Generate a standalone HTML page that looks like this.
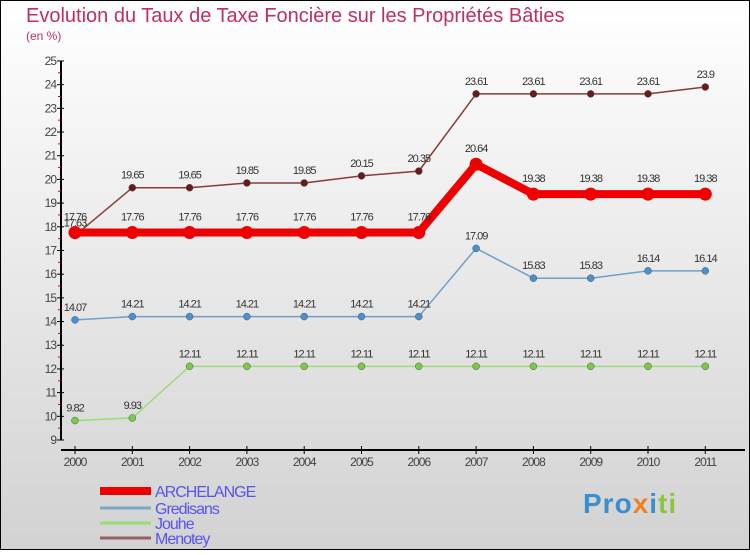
<!DOCTYPE html>
<html><head><meta charset="utf-8"><style>
body{margin:0}
#c{width:750px;height:550px;position:relative;font-family:"Liberation Sans",sans-serif}
</style></head><body>
<div id="c">
<svg id="s" width="750" height="550" xmlns="http://www.w3.org/2000/svg">
<defs><linearGradient id="bg" x1="0" y1="0" x2="0" y2="1"><stop offset="0" stop-color="#ffffff"/><stop offset="1" stop-color="#d2d2d2"/></linearGradient></defs>
<rect x="0.5" y="0.5" width="749" height="549" fill="url(#bg)" stroke="#000"/>
<text x="26" y="22" font-size="20" fill="#c0305a">Evolution du Taux de Taxe Foncière sur les Propriétés Bâties</text>
<text x="26" y="40" font-size="12" fill="#c0305a">(en %)</text>
<g id="axes"></g><g id="series"></g><g id="legend"></g>
</svg>
<div style="position:absolute;left:583px;top:488px;font-size:28px;font-weight:bold;letter-spacing:1px"><span style="color:#3a8fd0">Pro</span><span style="color:#f08020">x</span><span style="color:#3a8fd0">i</span><span style="color:#8cc63f">ti</span></div>
</div>
<script>
const years=["2000","2001","2002","2003","2004","2005","2006","2007","2008","2009","2010","2011"];
const yTicks=[9,10,11,12,13,14,15,16,17,18,19,20,21,22,23,24,25];
const archelange=[17.76,17.76,17.76,17.76,17.76,17.76,17.76,20.64,19.38,19.38,19.38,19.38];
const gredisans=[14.07,14.21,14.21,14.21,14.21,14.21,14.21,17.09,15.83,15.83,16.14,16.14];
const jouhe=[9.82,9.93,12.11,12.11,12.11,12.11,12.11,12.11,12.11,12.11,12.11,12.11];
const menotey=[17.63,19.65,19.65,19.85,19.85,20.15,20.35,23.61,23.61,23.61,23.61,23.9];
const NS="http://www.w3.org/2000/svg";
const X=i=>75+i*57.3;
const Y=v=>440-(v-9)*23.69;
function mk(t,a,p){const e=document.createElementNS(NS,t);for(const k in a)e.setAttribute(k,a[k]);p.appendChild(e);return e;}
const ax=document.getElementById('axes');
let l=mk('line',{x1:61,y1:Y(25),x2:61,y2:Y(9),stroke:'#000','stroke-width':2},ax);


l=mk('line',{x1:61,y1:450,x2:745,y2:450,stroke:'#000','stroke-width':2},ax);


yTicks.forEach(v=>{
 mk('line',{x1:57,y1:Y(v),x2:64,y2:Y(v),stroke:'#000'},ax);
 if(v<25)mk('line',{x1:58,y1:Y(v+0.5),x2:61,y2:Y(v+0.5),stroke:'#d00'},ax);
 const t=mk('text',{x:56,y:Y(v)+4,'text-anchor':'end','font-size':12,fill:'#444','letter-spacing':'-1'},ax);
 t.textContent=v;
 
 
});
years.forEach((y,i)=>{
 mk('line',{x1:X(i),y1:446,x2:X(i),y2:454,stroke:'#000'},ax);
 const t=mk('text',{x:X(i),y:466,'text-anchor':'middle','font-size':12,fill:'#444','letter-spacing':'-1'},ax);
 t.textContent=y;
 
 
});
const sg=document.getElementById('series');
function series(d,col,w,r,dot,name,labelOff){
 const g=mk('g',{},sg);
 
 
 const p=mk('polyline',{points:d.map((v,i)=>X(i)+','+Y(v)).join(' '),fill:'none',stroke:col,'stroke-width':w,'stroke-linejoin':'round'},g);
 
 
 d.forEach((v,i)=>{
  const c=mk('circle',{cx:X(i),cy:Y(v),r:r,fill:dot,stroke:w>4?'none':'#555','stroke-width':0.5},g);
  
  
  const t=mk('text',{x:X(i),y:Y(v)-labelOff,'text-anchor':'middle','font-size':11,fill:'#333','letter-spacing':'-1'},g);
  t.textContent=v;
  
  
 });
}
series(jouhe,'#99dd77',1.5,3.5,'#77cc44','jouhe',9);
series(gredisans,'#6fa0c8',1.5,3.5,'#4a90d0','gredisans',9);
series(menotey,'#8a3a3a',1.5,3.5,'#6a1a1a','menotey',9);
series(archelange,'#ee0000',8,6.5,'#ee0000','archelange',12);
const lg=document.getElementById('legend');
const items=[["ARCHELANGE","#ee0000",8,491],["Gredisans","#7aa6c8",3,508],["Jouhe","#99dd77",3,523],["Menotey","#946060",3,538]];
items.forEach(it=>{
 const g=mk('g',{},lg);
 
 
 mk('line',{x1:100,y1:it[3],x2:151,y2:it[3],stroke:it[1],'stroke-width':it[2]},g);
 const t=mk('text',{x:155,y:it[3]+6,'font-size':16,fill:'#5555ee','letter-spacing':'-1'},g);
 t.textContent=it[0];
});
</script>
</body></html>
